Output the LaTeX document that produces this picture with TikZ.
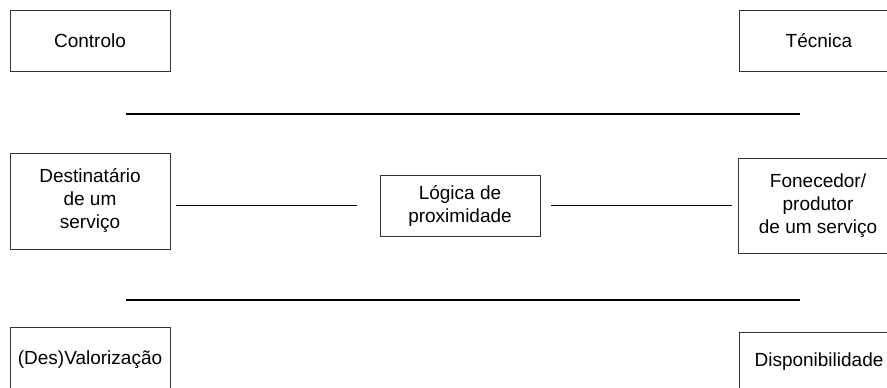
\documentclass[tikz,border=0pt]{standalone}
\usepackage{fontspec}
\setmainfont{Liberation Sans}
\begin{document}
\begin{tikzpicture}[x=1pt,y=-1pt,
  box/.style={draw=black!80, line width=0.9pt, rectangle, align=center, inner sep=0pt,
    font=\fontsize{19pt}{23pt}\selectfont},
  sep/.style={draw=black, line width=1.4pt},
  link/.style={draw=black, line width=1pt}]
\useasboundingbox (0,0) rectangle (887,388);
\node[box, minimum width=160pt, minimum height=61pt] (controlo) at (90,40.5) {Controlo};
\node[box, minimum width=160pt, minimum height=61pt] (tecnica) at (819,40.5) {Técnica};
\node[box, minimum width=160pt, minimum height=96pt] (dest) at (90,201) {Destinatário\\de um\\serviço};
\node[box, minimum width=160pt, minimum height=61pt] (logica) at (460,205.5) {Lógica de\\proximidade};
\node[box, minimum width=160pt, minimum height=95pt] (fone) at (818,205.5) {Fonecedor/\\produtor\\de um serviço};
\node[box, minimum width=160pt, minimum height=65pt] (valor) at (90,359.5) {(Des)Valorização};
\node[box, minimum width=160pt, minimum height=60pt] (dispo) at (819,362) {Disponibilidade};
\coordinate (t1) at (126,114);
\coordinate (t2) at (800,114);
\coordinate (b1) at (126,300);
\coordinate (b2) at (800,300);
\draw[sep] (t1) -- (t2);
\draw[sep] (b1) -- (b2);
\draw[link, shorten <=6pt, shorten >=23pt] (dest.east |- logica) -- (logica.west);
\draw[link, shorten <=11pt, shorten >=6pt] (logica.east) -- (fone.west);
\end{tikzpicture}
\end{document}
